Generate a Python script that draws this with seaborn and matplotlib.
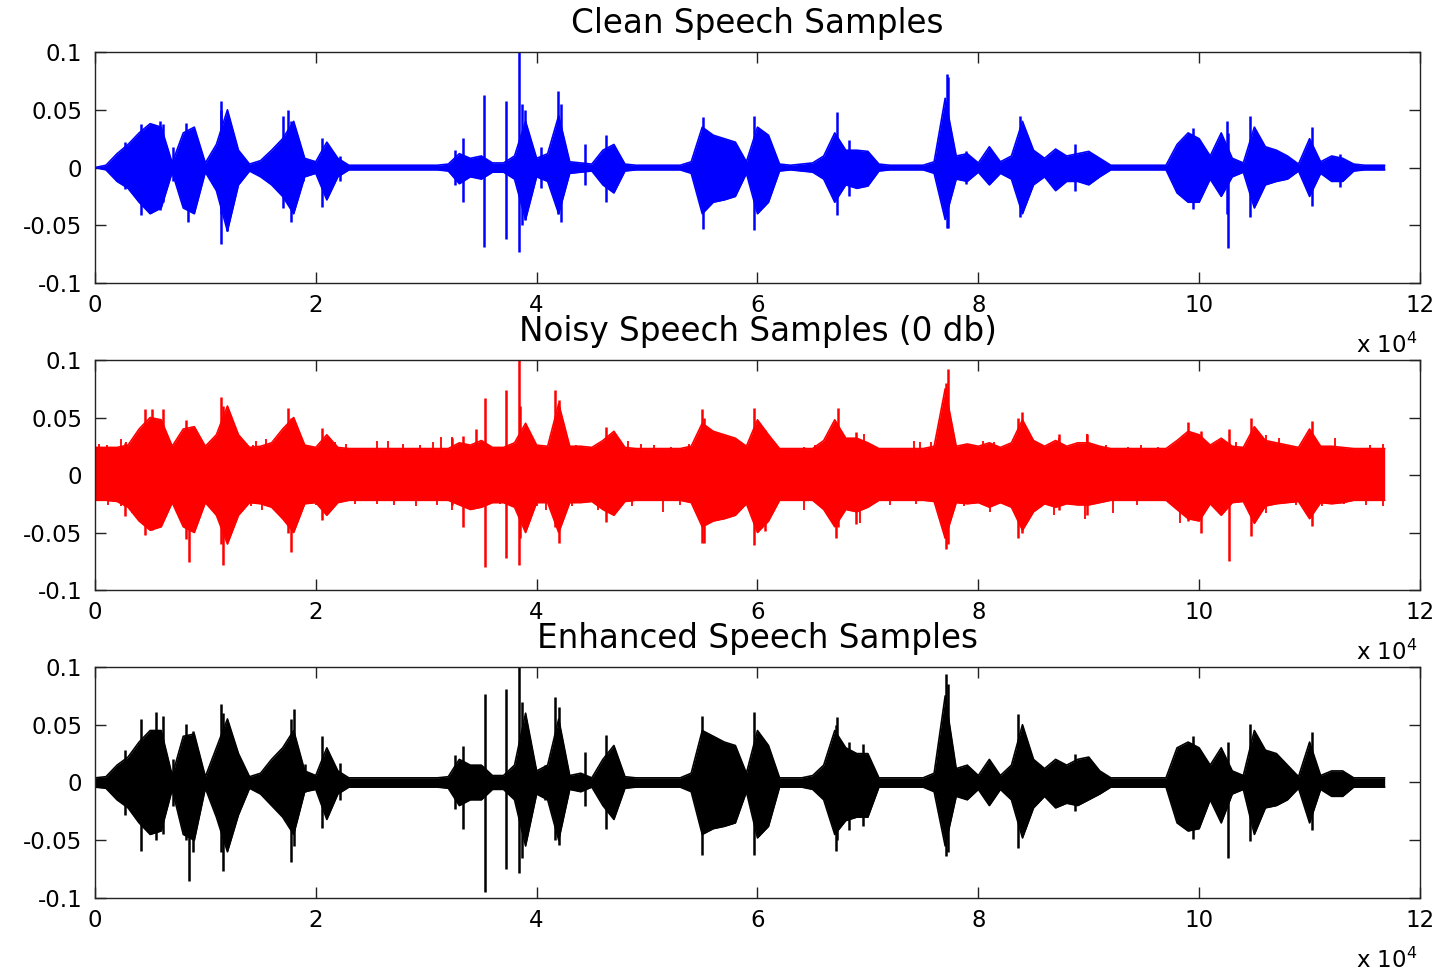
import numpy as np
import matplotlib
matplotlib.use("Agg")
import matplotlib.pyplot as plt
import seaborn as sns

# ---------------------------------------------------------------------------
# Waveform envelopes, one value per 1000-sample frame (amplitude x 1e-3).
# ---------------------------------------------------------------------------
FRAME = 1000
LAST_SAMPLE = 116800

clean_hi = [0, 2, 12, 20, 30, 38, 35, 4, 30, 35, 4, 20, 50, 15, 3, 6, 15, 25, 40, 8,
            5, 22, 8, 2, 2, 2, 2, 2, 2, 2, 2, 2, 3, 12, 8, 10, 4, 4, 10, 40,
            8, 12, 45, 5, 4, 3, 15, 20, 3, 2, 2, 2, 2, 2, 5, 35, 28, 25, 22, 5,
            35, 28, 3, 2, 3, 4, 10, 30, 15, 15, 14, 3, 2, 2, 2, 2, 5, 60, 10, 12,
            4, 18, 5, 10, 40, 15, 8, 16, 10, 12, 14, 8, 2, 2, 2, 2, 2, 2, 20, 30,
            25, 10, 30, 8, 4, 35, 18, 15, 10, 3, 25, 5, 10, 8, 3, 2, 2]
clean_lo = [0, -2, -12, -18, -30, -40, -35, -4, -35, -40, -4, -20, -55, -15, -3, -8, -15, -25, -40, -8,
            -5, -28, -8, -2, -2, -2, -2, -2, -2, -2, -2, -2, -3, -14, -8, -10, -4, -4, -10, -45,
            -8, -12, -40, -5, -4, -3, -15, -22, -3, -2, -2, -2, -2, -2, -5, -40, -30, -28, -25, -5,
            -40, -30, -3, -2, -3, -4, -10, -30, -15, -18, -16, -3, -2, -2, -2, -2, -5, -45, -10, -12,
            -4, -15, -5, -10, -40, -15, -8, -20, -12, -12, -15, -8, -2, -2, -2, -2, -2, -2, -22, -30,
            -30, -10, -25, -8, -4, -35, -15, -12, -10, -3, -25, -5, -12, -12, -3, -2, -2]

noisy_hi = [24, 24, 24, 26, 40, 50, 48, 25, 40, 42, 25, 35, 60, 35, 24, 25, 28, 40, 50, 26,
            24, 35, 24, 23, 23, 23, 23, 23, 23, 23, 23, 23, 23, 28, 26, 30, 24, 24, 28, 45,
            26, 25, 62, 25, 25, 24, 30, 38, 24, 23, 23, 23, 23, 23, 25, 45, 38, 35, 32, 25,
            48, 35, 23, 23, 23, 23, 30, 48, 32, 32, 28, 23, 23, 23, 23, 23, 25, 75, 25, 27,
            25, 28, 24, 28, 48, 30, 25, 30, 25, 28, 28, 25, 23, 23, 23, 23, 23, 23, 30, 38,
            35, 26, 32, 25, 24, 42, 30, 28, 26, 24, 40, 25, 25, 24, 23, 23, 23]
noisy_lo = [-22, -22, -23, -28, -40, -48, -45, -24, -45, -50, -24, -35, -60, -35, -24, -25, -28, -38, -50, -25,
            -24, -35, -24, -22, -22, -22, -22, -22, -22, -22, -22, -22, -22, -26, -30, -28, -24, -24, -28, -50,
            -24, -24, -50, -24, -24, -23, -30, -35, -23, -22, -22, -22, -22, -22, -24, -45, -40, -38, -35, -25,
            -50, -40, -22, -22, -22, -22, -30, -45, -30, -32, -28, -22, -22, -22, -22, -22, -23, -55, -24, -25,
            -24, -28, -24, -28, -48, -32, -25, -28, -25, -26, -26, -24, -22, -22, -22, -22, -22, -22, -30, -38,
            -40, -25, -35, -24, -23, -42, -27, -25, -24, -23, -38, -24, -25, -24, -22, -22, -22]

enh_hi = [4, 5, 15, 22, 35, 45, 45, 6, 40, 42, 5, 30, 55, 25, 5, 8, 20, 30, 45, 10,
          6, 30, 10, 4, 4, 4, 4, 4, 4, 4, 4, 4, 5, 20, 15, 15, 6, 6, 15, 60,
          10, 15, 55, 6, 8, 4, 20, 32, 5, 4, 4, 4, 4, 4, 8, 45, 40, 35, 32, 8,
          45, 32, 4, 4, 4, 6, 15, 45, 30, 25, 25, 4, 4, 4, 4, 4, 8, 75, 12, 15,
          6, 20, 6, 15, 50, 20, 12, 20, 15, 20, 22, 10, 4, 4, 4, 4, 4, 4, 30, 35,
          30, 15, 30, 10, 6, 45, 28, 25, 15, 5, 35, 6, 10, 10, 4, 4, 4]
enh_lo = [-4, -5, -15, -22, -35, -45, -42, -6, -45, -50, -5, -30, -60, -28, -5, -10, -20, -30, -45, -8,
          -6, -32, -10, -4, -4, -4, -4, -4, -4, -4, -4, -4, -5, -20, -15, -15, -6, -6, -15, -55,
          -10, -15, -50, -6, -8, -4, -20, -32, -5, -4, -4, -4, -4, -4, -8, -45, -40, -38, -35, -8,
          -48, -38, -4, -4, -4, -6, -15, -45, -33, -30, -30, -4, -4, -4, -4, -4, -8, -55, -12, -15,
          -6, -20, -6, -15, -48, -22, -12, -22, -18, -20, -15, -10, -4, -4, -4, -4, -4, -4, -35, -42,
          -40, -15, -35, -10, -6, -45, -22, -20, -15, -5, -35, -6, -12, -12, -4, -4, -4]

# ---------------------------------------------------------------------------
# Individual peaks: (sample index, max, min), amplitude x 1e-3.
# ---------------------------------------------------------------------------
clean_peaks = [
    (2750, 22, -19), (4200, 38, -41), (5300, 38, -35), (5900, 40, -37), (6160, 38, -30),
    (7060, 18, -12), (7650, 10, -15), (8240, 39, -35), (8440, 30, -47), (11380, 58, -40),
    (11460, 50, -66), (11970, 45, -55), (17070, 45, -35), (17470, 50, -30), (17740, 40, -47),
    (18840, 10, -12), (20600, 26, -34), (22180, 10, -12), (32600, 15, -15), (33360, 26, -30),
    (35200, 63, -69), (37250, 58, -62), (38390, 100, -73), (38660, 55, -50), (38940, 50, -45),
    (40430, 18, -18), (41920, 66, -40), (42200, 55, -47), (44350, 20, -15), (46300, 28, -30),
    (55030, 44, -53), (59660, 45, -54), (67240, 48, -41), (68300, 24, -25), (77180, 81, -52),
    (77300, 78, -52), (78860, 14, -14), (83760, 45, -43), (88770, 20, -20), (99400, 34, -36),
    (102540, 40, -40), (102620, 30, -70), (104580, 45, -43), (110180, 35, -33), (112720, 12, -17),
]
noisy_peaks = [
    (2750, 28, -36), (4500, 57, -52), (5200, 57, -48), (6160, 57, -30), (8240, 48, -56),
    (8560, 40, -76), (11380, 68, -60), (11580, 60, -78), (17470, 58, -50), (17740, 50, -67),
    (20600, 41, -39), (32300, 32, -26), (33360, 34, -45), (34550, 40, -28), (35300, 67, -80),
    (37250, 74, -72), (38390, 100, -78), (38500, 60, -55), (41700, 74, -45), (42000, 65, -59),
    (46300, 42, -41), (55000, 57, -59), (55200, 50, -59), (59700, 58, -61), (60660, 39, -49),
    (67120, 45, -55), (67320, 58, -45), (68880, 37, -43), (77030, 80, -64), (77220, 92, -60),
    (83560, 50, -55), (83950, 55, -50), (87280, 36, -30), (89820, 36, -35), (99020, 46, -40),
    (100200, 38, -50), (102660, 40, -75), (104700, 50, -53), (110180, 47, -44),
]
enh_peaks = [
    (2750, 28, -28), (4200, 55, -59), (5500, 61, -50), (6160, 58, -45), (7060, 20, -20),
    (8240, 51, -50), (8560, 40, -85), (8900, 45, -60), (11380, 68, -60), (11580, 60, -77),
    (17740, 55, -69), (18000, 64, -55), (19000, 16, -8), (20600, 40, -39), (22180, 17, -15),
    (32600, 24, -23), (33360, 32, -40), (35300, 77, -95), (37250, 81, -75), (38390, 100, -78),
    (38660, 70, -65), (40800, 15, -15), (41700, 74, -50), (42000, 65, -54), (44350, 26, -20),
    (46300, 41, -40), (55000, 58, -63), (59700, 61, -63), (67120, 50, -59), (67240, 57, -50),
    (68300, 35, -41), (69600, 33, -38), (77100, 94, -64), (77300, 85, -60), (83600, 59, -57),
    (88770, 25, -25), (99400, 40, -49), (102620, 35, -65), (104580, 51, -51), (110180, 44, -41),
]

# Noise fringe tips in the noisy recording: (sample index, amplitude x 1e-3).
noise_tips_up = [
    (390, 27), (1060, 26), (2355, 31), (2830, 29), (6480, 30), (7260, 23), (9730, 26),
    (10600, 26), (14330, 26), (14600, 30), (15500, 31), (18450, 27), (19230, 26), (21780, 29),
    (22770, 27), (24410, 21), (25510, 30), (26500, 30), (27870, 27), (29440, 26), (30620, 29),
    (31320, 33), (32380, 33), (33760, 26), (36700, 23), (40430, 26), (43570, 26), (44750, 24),
    (48280, 30), (49460, 27), (50630, 26), (52200, 24), (53770, 27), (56130, 31), (57700, 30),
    (61840, 23), (63210, 21), (64190, 24), (65170, 26), (69670, 36), (72020, 23), (74170, 30),
    (74760, 29), (75730, 29), (78670, 26), (80430, 30), (81410, 29), (85710, 26), (87280, 32),
    (88450, 24), (89820, 36), (91590, 26), (93540, 24), (94720, 26), (96280, 24), (103330, 29),
    (106070, 35), (107240, 32), (112330, 32), (113900, 23), (115460, 26), (116640, 27),
]
noise_tips_down = [
    (390, -20), (1180, -26), (2355, -27), (3340, -33), (6870, -22), (7460, -28), (9810, -22),
    (10210, -26), (12950, -27), (14130, -27), (15110, -30), (17070, -38), (18840, -22),
    (20020, -26), (21590, -25), (23550, -25), (25510, -25), (27080, -26), (29050, -27),
    (31010, -26), (32380, -30), (33760, -22), (36700, -25), (40040, -27), (40820, -30),
    (43180, -27), (45530, -30), (48670, -27), (51420, -32), (52990, -26), (57700, -27),
    (60840, -26), (61450, -30), (64190, -30), (66340, -35), (69280, -42), (72020, -26),
    (74370, -25), (78670, -27), (81020, -32), (82970, -25), (86890, -35), (89630, -38),
    (92170, -33), (94330, -26), (98240, -42), (99410, -33), (106070, -33), (108810, -26),
    (111160, -27), (113110, -25), (115070, -26), (116640, -27),
]

titles = ["Clean Speech Samples", "Noisy Speech Samples (0 db)", "Enhanced Speech Samples"]
colors = ["#0000ff", "#ff0000", "#000000"]
x_ticks = [0, 20000, 40000, 60000, 80000, 100000, 120000]
x_tick_labels = ["0", "2", "4", "6", "8", "10", "12"]
y_ticks = [-0.1, -0.05, 0, 0.05, 0.1]
y_tick_labels = ["-0.1", "-0.05", "0", "0.05", "0.1"]

sns.set_style("white")
plt.rcParams["font.family"] = ["DejaVu Sans"]
plt.rcParams["text.color"] = "black"

fig = plt.figure(figsize=(14.45, 9.77), dpi=100)
panel_boxes = [
    (0.0657, 0.7103, 0.9170, 0.2364),
    (0.0657, 0.3961, 0.9170, 0.2354),
    (0.0657, 0.0809, 0.9170, 0.2364),
]

panels = [
    (clean_hi, clean_lo, clean_peaks, None, None),
    (noisy_hi, noisy_lo, noisy_peaks, noise_tips_up, noise_tips_down),
    (enh_hi, enh_lo, enh_peaks, None, None),
]

for (hi, lo, peaks, tips_up, tips_dn), box, title, color in zip(panels, panel_boxes, titles, colors):
    ax = fig.add_axes(box)
    n = len(hi)
    xs = np.append(np.arange(n) * FRAME, LAST_SAMPLE)
    up = np.append(np.asarray(hi), hi[-1]) / 1000.0
    dn = np.append(np.asarray(lo), lo[-1]) / 1000.0

    # frame envelope as a filled band
    ax.fill_between(xs, dn, up, color=color, linewidth=0)
    sns.lineplot(x=xs, y=up, ax=ax, color=color, linewidth=1.2)
    sns.lineplot(x=xs, y=dn, ax=ax, color=color, linewidth=1.2)

    # isolated peaks inside each frame
    ax.vlines([p[0] for p in peaks], [p[2] / 1000.0 for p in peaks],
              [p[1] / 1000.0 for p in peaks], color=color, linewidth=1.8)
    if tips_up:
        ax.vlines([t[0] for t in tips_up], 0, [t[1] / 1000.0 for t in tips_up],
                  color=color, linewidth=1.3)
        ax.vlines([t[0] for t in tips_dn], [t[1] / 1000.0 for t in tips_dn], 0,
                  color=color, linewidth=1.3)

    ax.set_xlim(0, 120000)
    ax.set_ylim(-0.1, 0.1)
    ax.set_xticks(x_ticks)
    ax.set_xticklabels(x_tick_labels)
    ax.set_yticks(y_ticks)
    ax.set_yticklabels(y_tick_labels)
    ax.tick_params(direction="in", length=8, width=1.0, colors="#222222",
                   labelcolor="black", labelsize=16.5, top=True, right=True,
                   bottom=True, left=True)
    ax.tick_params(axis="x", pad=8)
    ax.tick_params(axis="y", pad=9)
    for side in ax.spines.values():
        side.set_visible(True)
        side.set_color("#222222")
        side.set_linewidth(1.0)
    ax.set_title(title, fontsize=23.5, pad=14, color="black")
    ax.annotate(r"x 10$^{4}$", xy=(1, 0), xycoords="axes fraction",
                xytext=(-2, -45), textcoords="offset points",
                ha="right", va="center", fontsize=16.5, color="black")

fig.savefig("out.png", dpi=100, facecolor="white")
